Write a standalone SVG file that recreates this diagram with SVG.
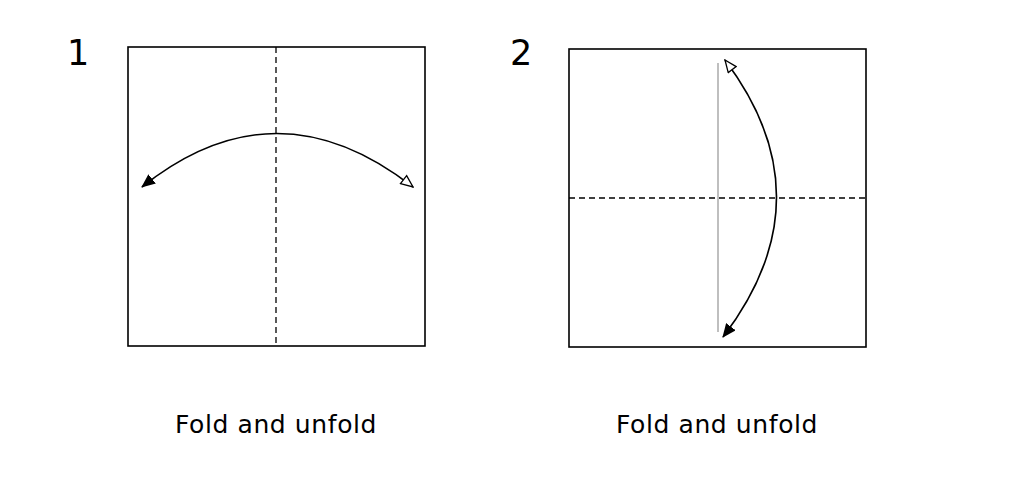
<svg xmlns="http://www.w3.org/2000/svg" width="1019" height="492" viewBox="0 0 1019 492">
<style>
.sq{fill:none;stroke:#000;stroke-width:1.6}
.dash{stroke:#000;stroke-width:1.3;stroke-dasharray:6,4}
.arc{fill:none;stroke:#000;stroke-width:1.6}
.t{font-family:"DejaVu Sans",sans-serif;font-size:25px;letter-spacing:0.6px;fill:#000;text-anchor:middle}
.n{font-family:"DejaVu Sans",sans-serif;font-size:35px;fill:#000}
</style>
<defs>
<marker id="fill" viewBox="0 0 14 12" refX="13" refY="6" markerWidth="14" markerHeight="12" markerUnits="userSpaceOnUse" orient="auto"><path d="M0,0L14,6L0,12z" fill="#000"/></marker>
<marker id="open" viewBox="0 0 14 12" refX="13" refY="6" markerWidth="14" markerHeight="12" markerUnits="userSpaceOnUse" orient="auto-start-reverse"><path d="M1,1L13,6L1,11z" fill="#fff" stroke="#000" stroke-width="1.3"/></marker>
</defs>
<rect width="1019" height="492" fill="#fff"/>
<g id="step1">
<rect class="sq" x="128" y="47" width="297" height="299"/>
<line class="dash" x1="276" y1="47" x2="276" y2="346"/>
<text class="n" x="67" y="65">1</text>
<text class="t" x="276" y="433">Fold and unfold</text>
</g>
<g id="step2">
<rect class="sq" x="569" y="49" width="297" height="298"/>
<line class="dash" x1="569" y1="198" x2="866" y2="198"/>
<line x1="718" y1="63" x2="718" y2="332" stroke="#aaa" stroke-width="1.5"/>
<text class="n" x="510" y="65">2</text>
<text class="t" x="717" y="433">Fold and unfold</text>
</g>
<g id="connectors">
<path class="arc" d="M413,187 Q276,80 142,187" marker-start="url(#open)" marker-end="url(#fill)"/>
<path class="arc" d="M725,60 Q829,198 723,337" marker-start="url(#open)" marker-end="url(#fill)"/>
</g>
</svg>
